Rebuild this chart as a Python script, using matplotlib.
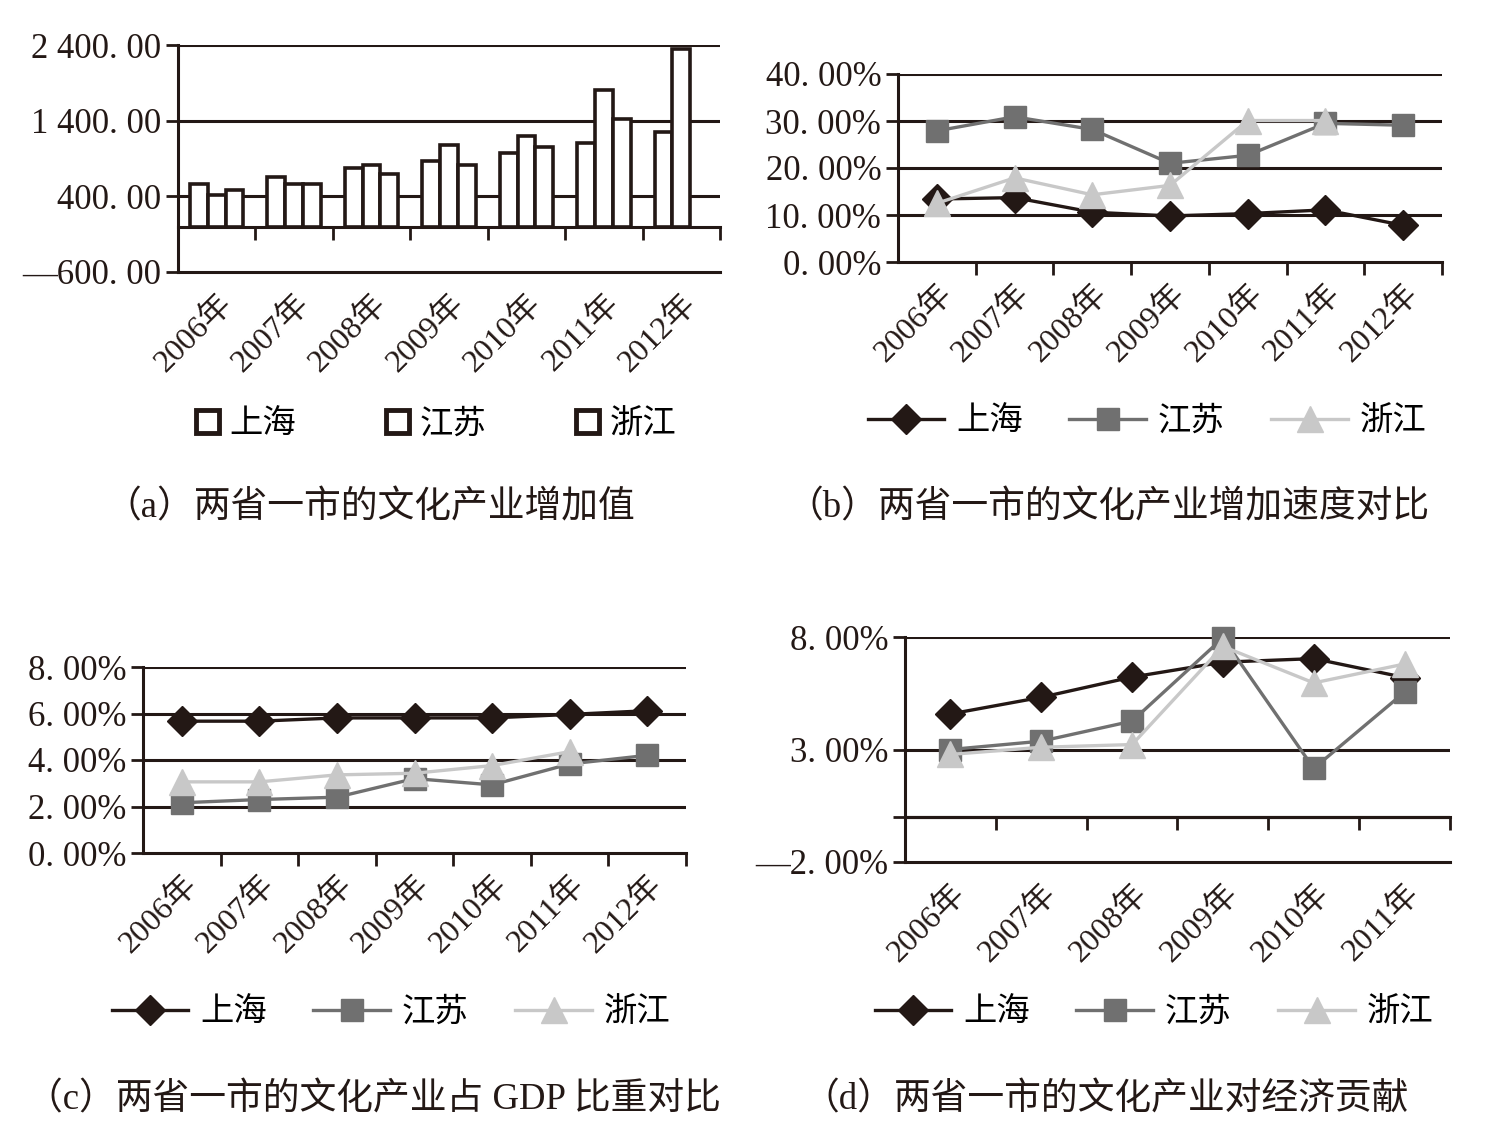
import numpy as np
import matplotlib
matplotlib.use("Agg")
import matplotlib.pyplot as plt

# fonts: serif latin, CJK fallback
plt.rcParams['font.family'] = ['Liberation Serif', 'Noto Sans CJK SC']
plt.rcParams['axes.unicode_minus'] = False

# DATA
years7 = ['2006年', '2007年', '2008年', '2009年', '2010年', '2011年', '2012年']
years6 = years7[:6]
names = ['上海', '江苏', '浙江']

# (a) value added
sh_a = [564, 662, 773, 867, 973, 1107, 1249]
js_a = [422, 564, 809, 1076, 1196, 1800, 2342]
zj_a = [489, 564, 689, 809, 1053, 1427, np.nan]
a_ticks = [-600, 400, 1400, 2400]
a_labels = ['—600. 00', '400. 00', '1 400. 00', '2 400. 00']

# (b) growth rate (%)
sh_b = [13.4, 13.7, 10.6, 9.8, 10.3, 11.1, 7.8]
js_b = [27.9, 30.9, 28.2, 21.0, 22.7, 29.5, 29.1]
zj_b = [12.5, 17.9, 14.3, 16.3, 30.1, 30.1, np.nan]
b_ticks = [0, 10, 20, 30, 40]
b_labels = ['0. 00%', '10. 00%', '20. 00%', '30. 00%', '40. 00%']

# (c) share of GDP (%)
sh_c = [5.67, 5.67, 5.81, 5.81, 5.81, 5.96, 6.12]
js_c = [2.16, 2.30, 2.40, 3.20, 2.93, 3.83, 4.20]
zj_c = [3.06, 3.06, 3.36, 3.43, 3.76, 4.36, np.nan]
c_ticks = [0, 2, 4, 6, 8]
c_labels = ['0. 00%', '2. 00%', '4. 00%', '6. 00%', '8. 00%']

# (d) contribution (%)
sh_d = [4.58, 5.32, 6.22, 6.88, 7.04, 6.20]
js_d = [3.00, 3.37, 4.26, 7.96, 2.16, 5.55]
zj_d = [2.78, 3.10, 3.22, 7.58, 5.96, 6.80]
d_ticks = [-2, 0, 3, 8]
d_labels = ['—2. 00%', '', '3. 00%', '8. 00%']

captions = ['（a）两省一市的文化产业增加值',
            '（b）两省一市的文化产业增加速度对比',
            '（c）两省一市的文化产业占 GDP 比重对比',
            '（d）两省一市的文化产业对经济贡献']

colors = ['#231815', '#707070', '#c8c8c8']
markers = ['D', 's', '^']
msizes = [15, 16, 19]
INK = '#231815'
W, H = 1489, 1143


def px_box(x0, y0, x1, y1):
    return [x0 / W, 1 - y1 / H, (x1 - x0) / W, (y1 - y0) / H]


def style_axis(ax, n, ticks, labels, ylim):
    ax.set_xlim(-0.5, n - 0.5)
    ax.set_ylim(*ylim)
    for s in ['top', 'right']:
        ax.spines[s].set_visible(False)
    for s in ['left', 'bottom']:
        ax.spines[s].set_linewidth(2.2)
        ax.spines[s].set_color(INK)
    ax.set_yticks(ticks)
    ax.set_yticklabels(labels)
    ax.tick_params(axis='y', length=9, width=2, color=INK, pad=3,
                   labelsize=25, labelcolor=INK)
    for t in ticks:
        if t != ylim[0]:
            ax.axhline(t, color=INK, lw=2.2, zorder=1)
    ax.set_xticks(range(n))
    ax.set_xticklabels(years7[:n] if n == 7 else years6, rotation=45,
                       ha='right', va='top', rotation_mode='anchor')
    ax.tick_params(axis='x', length=0, pad=12, labelsize=23, labelcolor=INK)


def zero_axis(ax, n, at_bottom=False):
    # category axis with boundary ticks
    bounds = np.arange(0.5, n, 1.0)
    if at_bottom:
        ax.set_xticks(bounds, minor=True)
        ax.tick_params(axis='x', which='minor', length=9, width=2,
                       color=INK, direction='out')
    else:
        sec = ax.secondary_xaxis(0, transform=ax.transData)
        sec.set_xticks(bounds)
        sec.set_xticklabels([])
        sec.spines['bottom'].set_linewidth(2.2)
        sec.spines['bottom'].set_color(INK)
        sec.tick_params(length=9, width=2, color=INK, direction='out')


def line_legend(ax, cx, cy):
    ax.legend(loc='center', bbox_to_anchor=(cx / W, 1 - cy / H),
              bbox_transform=fig.transFigure, ncol=3, frameon=False,
              fontsize=24, handlelength=2.3, handletextpad=0.35,
              columnspacing=1.4, borderpad=0)


fig = plt.figure(figsize=(14.89, 11.43), dpi=100)

# (a) bars
ax = fig.add_axes(px_box(178, 45, 720, 272))
x = np.arange(len(years7))
bw = 0.23
for i, vals in enumerate([sh_a, js_a, zj_a]):
    ax.bar(x + (i - 1) * bw, vals, bw, color='white', edgecolor=INK,
           linewidth=2.6, zorder=3, label=names[i])
style_axis(ax, 7, a_ticks, a_labels, (-600, 2400))
zero_axis(ax, 7)
leg = ax.legend(loc='center', bbox_to_anchor=(436 / W, 1 - 425 / H),
                bbox_transform=fig.transFigure, ncol=3, frameon=False,
                fontsize=24, handlelength=0.7, handleheight=0.7,
                handletextpad=0.3, columnspacing=2.7, borderpad=0)
for h in leg.legend_handles:
    h.set_linewidth(3.5)
fig.text(370 / W, 1 - 508 / H, captions[0], ha='center', va='center',
         fontsize=26.5, color=INK)

# line panels
panels = [
    ((898, 74, 1442, 262), 7, [sh_b, js_b, zj_b], b_ticks, b_labels, (0, 40),
     True, (1147, 422), (1108, 508), captions[1]),
    ((143, 667, 686, 853), 7, [sh_c, js_c, zj_c], c_ticks, c_labels, (0, 8),
     True, (391, 1013), (373, 1100), captions[2]),
    ((905, 637, 1450, 862), 6, [sh_d, js_d, zj_d], d_ticks, d_labels, (-2, 8),
     False, (1154, 1013), (1106, 1100), captions[3]),
]

for box, n, series, ticks, labels, ylim, bottom, leg, cap, text in panels:
    ax = fig.add_axes(px_box(*box))
    xs = np.arange(n)
    for i, vals in enumerate(series):
        ax.plot(xs, vals, color=colors[i], lw=2.4, marker=markers[i],
                ms=msizes[i], mec=colors[i], mfc=colors[i], zorder=3,
                label=names[i], clip_on=False)
    style_axis(ax, n, ticks, labels, ylim)
    zero_axis(ax, n, at_bottom=bottom)
    if not bottom:
        ax.axhline(0, color=INK, lw=2.2, zorder=1)
    line_legend(ax, *leg)
    fig.text(cap[0] / W, 1 - cap[1] / H, text, ha='center', va='center',
             fontsize=26.5, color=INK)

fig.savefig('out.png', dpi=100, facecolor='white')
